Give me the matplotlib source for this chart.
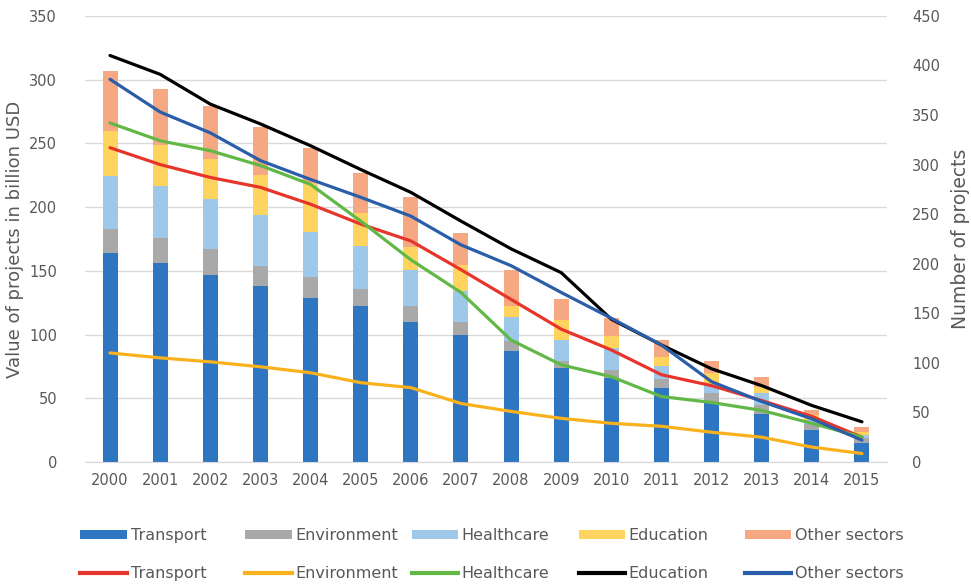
import matplotlib
matplotlib.use("Agg")
import matplotlib.pyplot as plt
from matplotlib.patches import Patch
from matplotlib.lines import Line2D
import numpy as np

years = [str(y) for y in range(2000, 2016)]
sectors = ["Transport", "Environment", "Healthcare", "Education", "Other sectors"]

# value of projects (billion USD), stacked bars
transport_val = [164, 156, 147, 138, 129, 122, 110, 100, 87, 74, 66, 58, 47, 38, 25, 14.5]
environment_val = [18.5, 20, 20, 16, 16, 14, 12, 10, 8, 5, 6.5, 7, 7, 7, 5, 4]
healthcare_val = [42, 40.5, 39, 40, 35.5, 33.5, 29, 24.5, 18.5, 17, 17, 10, 7, 9, 3, 2.5]
education_val = [35.5, 32.5, 31.5, 31, 38, 26, 18, 20, 9, 15.7, 9, 7, 9, 5, 4, 2.5]
other_val = [47, 43.5, 42, 38, 27.5, 31, 38.5, 25, 28.5, 16, 14.5, 14, 9, 7.5, 4, 4]

# number of projects, lines on right axis
transport_n = [317, 300, 287, 277, 260, 240, 223, 194, 164, 134, 113, 88, 77, 62, 46, 25]
environment_n = [110, 105, 101, 96, 90, 80, 75, 59, 51, 44, 39, 36, 30, 25, 15, 8.5]
healthcare_n = [342, 324, 314, 299, 280, 243, 204, 171, 123, 98, 86, 66, 60, 52, 39, 25]
education_n = [410, 391, 361, 341, 319, 295, 272, 243, 215, 191, 144, 118, 94, 77, 57, 40.5]
other_n = [386, 353, 332, 304, 285, 267, 248, 219, 198, 171, 145, 118, 81, 61, 43.5, 22]

bar_colors = ["#2e75c2", "#a9a9a9", "#9dc8ea", "#ffd45e", "#f5a882"]
line_colors = ["#e8352b", "#f9b21b", "#62b846", "#000000", "#2a5ea8"]
text_col = "#595959"

fig = plt.figure(figsize=(9.71, 5.87), dpi=100)
ax = fig.add_axes([0.0875, 0.213, 0.826, 0.76])
ax2 = ax.twinx()

x = np.arange(len(years))
bottom = np.zeros(len(years))
bar_handles = []
for vals, col, name in zip([transport_val, environment_val, healthcare_val, education_val, other_val],
                           bar_colors, sectors):
    ax.bar(x, vals, width=0.3, bottom=bottom, color=col, zorder=2)
    bottom += np.array(vals)
    bar_handles.append(Patch(facecolor=col, label=name))

line_handles = []
for vals, col, name in zip([transport_n, environment_n, healthcare_n, education_n, other_n],
                           line_colors, sectors):
    ax2.plot(x, vals, color=col, lw=2.3, solid_capstyle="round")
    line_handles.append(Line2D([0], [0], color=col, lw=3, label=name))

ax.set_xlim(-0.5, 15.5)
ax.set_ylim(0, 350)
ax2.set_ylim(0, 450)
ax.set_yticks(range(0, 351, 50))
ax2.set_yticks(range(0, 451, 50))
ax.set_xticks(x)
ax.set_xticklabels(years)
ax.grid(axis="y", color="#d9d9d9", lw=1, zorder=0)
ax.set_axisbelow(True)

for a in (ax, ax2):
    for s in a.spines.values():
        s.set_visible(False)
    a.tick_params(length=0, labelsize=10.5, colors=text_col)
ax.spines["bottom"].set_visible(True)
ax.spines["bottom"].set_color("#d9d9d9")
ax.tick_params(axis="y", pad=20)
ax.tick_params(axis="x", pad=8)
ax2.tick_params(axis="y", pad=18)

ax.set_ylabel("Value of projects in billion USD", fontsize=13, color=text_col, labelpad=4)
ax2.set_ylabel("Number of projects", fontsize=13.5, color=text_col, labelpad=8)

# legend: one small legend per column, bars above lines
col_x = [0.078, 0.248, 0.419, 0.591, 0.762]
for i in range(5):
    fig.legend(handles=[bar_handles[i], line_handles[i]], labels=[sectors[i], sectors[i]],
               loc="upper left", bbox_to_anchor=(col_x[i] - 0.01, 0.125), frameon=False,
               fontsize=11.5, handlelength=2.9, handleheight=0.5, handletextpad=0.25,
               labelspacing=1.45, labelcolor=text_col)

fig.savefig("out.png", dpi=100)
